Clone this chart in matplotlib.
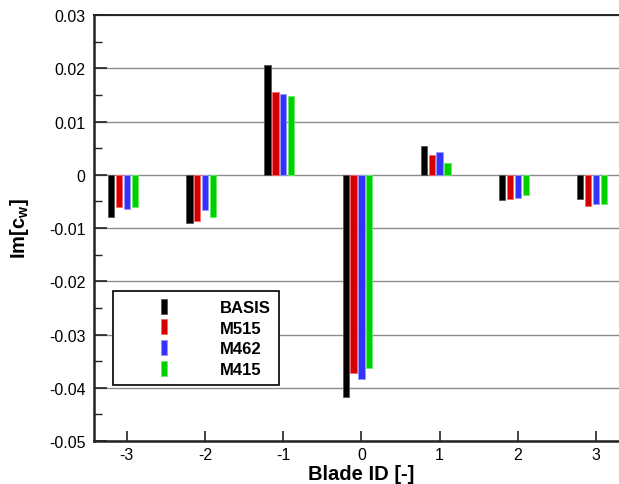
import numpy as np
import matplotlib
matplotlib.use("Agg")
import matplotlib.pyplot as plt
from matplotlib.patches import Rectangle
from matplotlib.container import BarContainer
from matplotlib.legend_handler import HandlerPatch, update_from_first_child
from matplotlib.ticker import MultipleLocator

plt.rcParams['font.family'] = ['Liberation Sans', 'DejaVu Sans']
plt.rcParams['mathtext.fontset'] = 'custom'
plt.rcParams['mathtext.rm'] = 'Liberation Sans'
plt.rcParams['mathtext.bf'] = 'Liberation Sans:bold'
plt.rcParams['axes.unicode_minus'] = False

# data
blades = [-3, -2, -1, 0, 1, 2, 3]
series = ['BASIS', 'M515', 'M462', 'M415']
basis = [-0.0079, -0.0090, 0.0206, -0.0417, 0.0054, -0.0047, -0.0046]
m515 = [-0.0060, -0.0086, 0.0156, -0.0372, 0.0038, -0.0046, -0.0058]
m462 = [-0.0065, -0.0066, 0.0152, -0.0384, 0.0042, -0.0044, -0.0055]
m415 = [-0.0061, -0.0079, 0.0148, -0.0363, 0.0023, -0.0038, -0.0055]
colors = ['#000000', '#d40000', '#3333ff', '#00d000']
edges = ['#555555', '#ff6666', '#9999ff', '#66ee66']

fig = plt.figure(figsize=(6.19, 4.85), dpi=100)
ax = fig.add_axes([0.1519, 0.0887, 0.864, 0.878])

x = np.array(blades, dtype=float)
offsets = [-0.2, -0.1, 0.0, 0.1]
for vals, off, c, ec, name in zip([basis, m515, m462, m415], offsets, colors, edges, series):
    ax.bar(x + off, vals, width=0.08, color=c, edgecolor=ec, linewidth=0.6, label=name, zorder=3)

ax.set_xlim(-3.42, 3.42)
ax.set_ylim(-0.05, 0.03)
ax.set_xticks(blades)
ax.set_yticks(np.arange(-0.05, 0.031, 0.01))
ax.set_yticklabels(['-0.05', '-0.04', '-0.03', '-0.02', '-0.01', '0', '0.01', '0.02', '0.03'])
ax.yaxis.set_minor_locator(MultipleLocator(0.005))

ax.yaxis.grid(True, color='#8c8c8c', linewidth=1.0, zorder=0)
ax.set_axisbelow(True)

ax.tick_params(axis='both', which='both', direction='in', labelsize=11.5, colors='#222222', labelcolor='black')
ax.tick_params(axis='y', which='major', length=9, width=1.2, pad=6, right=False)
ax.tick_params(axis='y', which='minor', length=6, width=1.0, right=False)
ax.tick_params(axis='x', which='major', length=7.5, width=1.2, pad=4, top=False)

for s in ['left', 'bottom']:
    ax.spines[s].set_linewidth(1.8)
    ax.spines[s].set_color('#222222')
ax.spines['top'].set_linewidth(1.4)
ax.spines['top'].set_color('#222222')
ax.spines['right'].set_visible(False)

ax.set_xlabel('Blade ID [-]', fontsize=14.5, fontweight='bold', labelpad=2)
ax.set_ylabel(r'Im[c$_\mathbf{w}$]', fontsize=14.5, fontweight='bold')
ax.yaxis.set_label_coords(-0.118, 0.5)


# narrow upright bar in the middle of a wide handle box
def bar_handle(legend, orig_handle, xdescent, ydescent, width, height, fontsize):
    w = 0.36 * fontsize
    h = 0.9 * fontsize
    return Rectangle((-xdescent + width / 2 - w / 2, -ydescent + height / 2 - h / 2), w, h)


leg = ax.legend(loc='lower left', bbox_to_anchor=(0.0355, 0.131), borderaxespad=0,
                prop={'size': 12, 'weight': 'bold'}, fancybox=False, edgecolor='black',
                framealpha=1, borderpad=0.5, handlelength=5.1, handletextpad=0.8,
                handleheight=0.9, labelspacing=0.3,
                handler_map={BarContainer: HandlerPatch(patch_func=bar_handle,
                                                        update_func=update_from_first_child)})
leg.get_frame().set_linewidth(1.2)

fig.savefig('out.png', dpi=100)
